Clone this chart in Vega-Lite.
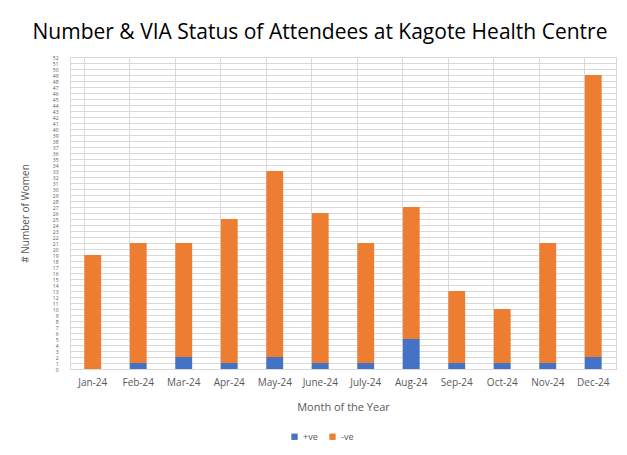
{
  "$schema": "https://vega.github.io/schema/vega-lite/v6.json",
  "width": 546,
  "height": 312,
  "autosize": {"type": "none"},
  "padding": {"left": 70, "top": 57, "right": 11, "bottom": 86},
  "background": "white",
  "title": {
    "text": "Number & VIA Status of Attendees at Kagote Health Centre",
    "font": "Open Sans",
    "fontSize": 21,
    "fontWeight": "normal",
    "color": "#000000",
    "anchor": "middle",
    "dx": -23,
    "offset": 12
  },
  "data": {
    "values": [
      {"month": "Jan-24", "status": "+ve", "count": 0},
      {"month": "Jan-24", "status": "-ve", "count": 19},
      {"month": "Feb-24", "status": "+ve", "count": 1},
      {"month": "Feb-24", "status": "-ve", "count": 20},
      {"month": "Mar-24", "status": "+ve", "count": 2},
      {"month": "Mar-24", "status": "-ve", "count": 19},
      {"month": "Apr-24", "status": "+ve", "count": 1},
      {"month": "Apr-24", "status": "-ve", "count": 24},
      {"month": "May-24", "status": "+ve", "count": 2},
      {"month": "May-24", "status": "-ve", "count": 31},
      {"month": "June-24", "status": "+ve", "count": 1},
      {"month": "June-24", "status": "-ve", "count": 25},
      {"month": "July-24", "status": "+ve", "count": 1},
      {"month": "July-24", "status": "-ve", "count": 20},
      {"month": "Aug-24", "status": "+ve", "count": 5},
      {"month": "Aug-24", "status": "-ve", "count": 22},
      {"month": "Sep-24", "status": "+ve", "count": 1},
      {"month": "Sep-24", "status": "-ve", "count": 12},
      {"month": "Oct-24", "status": "+ve", "count": 1},
      {"month": "Oct-24", "status": "-ve", "count": 9},
      {"month": "Nov-24", "status": "+ve", "count": 1},
      {"month": "Nov-24", "status": "-ve", "count": 20},
      {"month": "Dec-24", "status": "+ve", "count": 2},
      {"month": "Dec-24", "status": "-ve", "count": 47}
    ]
  },
  "mark": {"type": "bar"},
  "encoding": {
    "x": {
      "field": "month",
      "type": "nominal",
      "sort": null,
      "scale": {"paddingInner": 0.63, "paddingOuter": 0.315},
      "axis": {
        "title": "Month of the Year",
        "titleFont": "Open Sans",
        "titleFontSize": 11,
        "titleFontWeight": "normal",
        "titleColor": "#595959",
        "titlePadding": 14,
        "labelFont": "Open Sans",
        "labelFontSize": 10,
        "labelColor": "#595959",
        "labelAngle": 0,
        "labelPadding": 8,
        "ticks": false,
        "domainColor": "#D9D9D9",
        "grid": true,
        "bandPosition": 0,
        "gridColor": "#D9D9D9"
      }
    },
    "y": {
      "field": "count",
      "type": "quantitative",
      "aggregate": "sum",
      "stack": "zero",
      "scale": {"domain": [0, 52], "nice": false},
      "axis": {
        "title": "# Number of Women",
        "titleFont": "Open Sans",
        "titleFontSize": 10,
        "titleFontWeight": "normal",
        "titleColor": "#595959",
        "titlePadding": 22,
        "values": [0,1,2,3,4,5,6,7,8,9,10,11,12,13,14,15,16,17,18,19,20,21,22,23,24,25,26,27,28,29,30,31,32,33,34,35,36,37,38,39,40,41,42,43,44,45,46,47,48,49,50,51,52],
        "labelOverlap": false,
        "labelFont": "Open Sans",
        "labelFontSize": 5,
        "labelColor": "#595959",
        "labelPadding": 12,
        "ticks": false,
        "domain": false,
        "gridColor": "#D9D9D9"
      }
    },
    "color": {
      "field": "status",
      "type": "nominal",
      "scale": {"domain": ["+ve", "-ve"], "range": ["#4472C4", "#ED7D31"]},
      "legend": {
        "title": null,
        "orient": "none",
        "legendX": 220,
        "legendY": 375,
        "direction": "horizontal",
        "symbolType": "square",
        "symbolSize": 40,
        "labelFont": "Open Sans",
        "labelFontSize": 9,
        "labelColor": "#595959",
        "columnPadding": 10
      }
    },
    "order": {"field": "status", "sort": "ascending"}
  },
  "config": {
    "view": {"stroke": "#D9D9D9"}
  }
}
